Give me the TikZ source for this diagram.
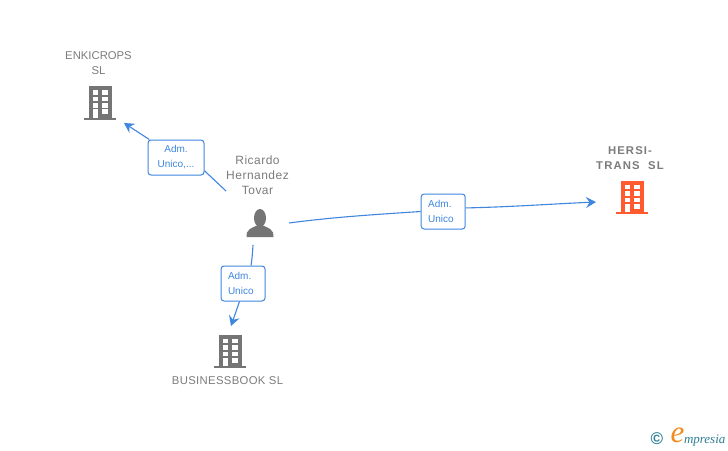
\documentclass[tikz,border=0pt]{standalone}
\usepackage{fontspec}
\setmainfont{Liberation Sans}
\newfontfamily\logofont{Liberation Serif}
\usetikzlibrary{arrows.meta,positioning}
\definecolor{linkblue}{HTML}{3F86DF}
\definecolor{iconGrey}{HTML}{757575}
\definecolor{nameGrey}{HTML}{7C7C7C}
\definecolor{ownOrange}{HTML}{FF5B2E}
\definecolor{logoTeal}{HTML}{2F7F93}
\definecolor{logoOrange}{HTML}{F28A1C}
\newcommand*{\nm}[1]{\fontsize{11.3}{15}\selectfont #1}
\tikzset{
  spot/.style={inner sep=0pt,outer sep=0pt},
  link/.style={linkblue,line width=1.1pt},
  arrowed/.style={link,-{Stealth[length=10pt,width=11pt,inset=3.5pt]}},
  rolebox/.style={draw=linkblue,fill=white,line width=1pt,rounded corners=3pt,
    inner sep=0pt,minimum height=35pt,text=linkblue,
    font=\fontsize{10}{15}\selectfont},
  firm/.style={nameGrey,align=center,inner sep=0pt,font=\nm},
  building/.pic={
    \fill (-11.5,-16.5) rectangle (11.5,15);
    \fill (-16,15) rectangle (16,17);
    % Windows, and the door in the last row
    \foreach \y in {-12.5,-6,0.7} {
      \fill[white] (-7.5,\y) rectangle (-2,\y+4.6);
      \fill[white] (2,\y) rectangle (7.5,\y+4.6);
    }
    \fill[white] (2,6.8) rectangle (7.5,11.5);
    \fill[white] (-7.5,6.8) rectangle (-2,15);
  },
  personicon/.pic={
    \fill (0,-5) ellipse (6 and 9);
    \fill (-13.5,14) .. controls (-14,6) and (-8,5) .. (-3,2.5)
      -- (3,2.5) .. controls (8,5) and (14,6) .. (13.5,14) -- cycle;
  }
}
\begin{document}
\begin{tikzpicture}[x=1pt,y=-1pt]
\useasboundingbox[fill=white] (0,0) rectangle (728,450);
% Icons
\pic[iconGrey] at (100.3,102.5) {building};
\pic[iconGrey] at (230,351) {building};
\pic[ownOrange] at (632,197) {building};
\pic[iconGrey] at (260,223) {personicon};
% Empty nodes round the icons, for the connectors to end on
\node[spot,minimum width=48pt,minimum height=42pt] (enki) at (100,102) {};
\node[spot,minimum width=70pt,minimum height=34pt] (hersi) at (631,202) {};
\node[spot,minimum width=30pt,minimum height=50pt] (busi) at (231,351) {};
\node[spot,minimum width=58pt,minimum height=44pt] (ricardo) at (260,223) {};
\coordinate (ricardoNW) at (226,191);
\coordinate (ricardoS) at (253,245);
% Names
\node[firm] (enkiname) at (98.5,63.5) {ENKICROPS\\SL};
\node[firm,font=\nm\bfseries\addfontfeature{LetterSpace=10}] (hersiname) at (630,158.5) {HERSI-\\TRANS\ \ SL};
\node[firm,font=\nm\addfontfeature{LetterSpace=3}] (businame) at (227.5,381) {BUSINESSBOOK SL};
\node[firm,font=\fontsize{12}{15}\selectfont\addfontfeature{LetterSpace=4}] (ricardoname) at (257.5,175) {Ricardo\\Hernandez\\Tovar};
% Role boxes
\node[rolebox,minimum width=56pt,align=center] (roleenki) at (176,157.5) {Adm.\\Unico,...};
\node[rolebox,minimum width=44pt,text width=30pt,align=left] (rolehersi) at (443.2,211.5) {Adm.\\Unico};
\node[rolebox,minimum width=44pt,text width=30pt,align=left] (rolebusi) at (243,283.5) {Adm.\\Unico};
% Connectors
\draw[link] (ricardoNW) -- (roleenki.-25);
\draw[arrowed] (roleenki.146) -- (enki.south east);
\draw[link] (ricardo.east) .. controls +(45,-6) and +(-45,3) .. (rolehersi.west);
\draw[arrowed] (rolehersi.9) .. controls +(45,-1) and +(-45,2) .. (hersi.west);
\draw[link] (ricardoS) .. controls +(-0.5,8) and +(1,-6) .. (rolebusi.66);
\draw[arrowed] (rolebusi.-101) -- (busi.north);
% Logo
\node[spot,text=logoTeal,font=\bfseries\fontsize{17}{17}\selectfont] (copy) at (657,438.5) {©};
\node[spot,text=logoOrange,font=\logofont\itshape\fontsize{31}{31}\selectfont] (logoe) at (677.5,435.5) {e};
\node[spot,text=logoTeal,anchor=base west,font=\logofont\itshape\fontsize{13}{13}\selectfont] (logotxt) at (684,443) {mpresia};
\end{tikzpicture}
\end{document}
